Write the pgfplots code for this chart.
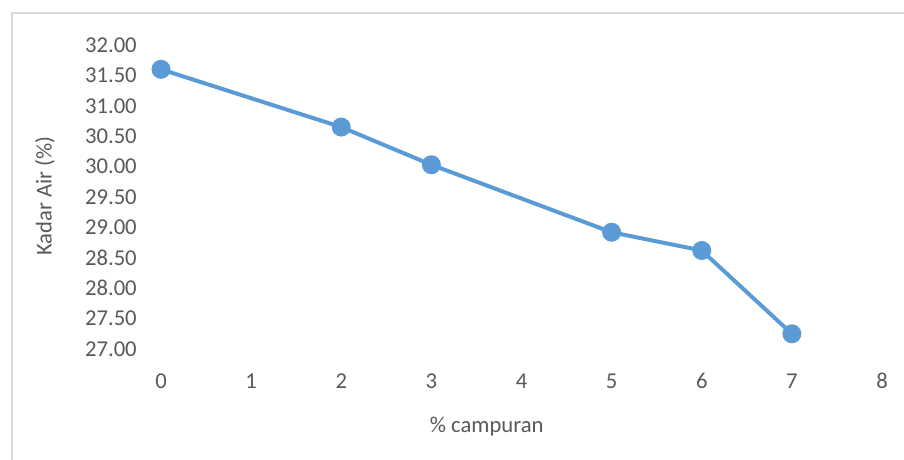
\documentclass[border=0pt]{standalone}
\usepackage{pgfplots}
\pgfplotsset{compat=1.18}
\usepackage{fontspec}
\setmainfont{Carlito}
\definecolor{txt}{HTML}{595959}
\definecolor{ser}{HTML}{5B9BD5}
\definecolor{brd}{HTML}{D9D9D9}
\begin{document}
\begin{tikzpicture}
  % frame of the picture, 904x460 px at 0.75pt per px
  \path[use as bounding box] (0,0) rectangle (678pt,345pt);
  \draw[brd, line width=1.1pt] (9pt,-5pt) -- (9pt,335.25pt) -- (690pt,335.25pt);

  \begin{axis}[
    scale only axis,
    width=540.75pt,
    height=228pt,
    at={(120.75pt,83.25pt)},
    anchor=south west,
    xmin=0, xmax=8,
    ymin=27, ymax=32,
    xtick={0,1,...,8},
    ytick={27,27.5,...,32},
    axis line style={draw=none},
    major tick length=0pt,
    clip=false,
    font=\fontsize{17pt}{20pt}\selectfont,
    every tick label/.append style={text=txt},
    xticklabel style={anchor=base, inner sep=0pt, yshift=-29.5pt},
    yticklabel style={anchor=east, inner sep=0pt, xshift=-18pt,
      /pgf/number format/.cd, fixed, fixed zerofill, precision=2},
    /pgf/number format/assume math mode=true,
  ]
    \addplot[color=ser, line width=3pt, mark=*,
      mark options={solid, fill=ser, draw=none},
      mark size=5.6pt]
      coordinates {
        (0,31.60)
        (2,30.65)
        (3,30.03)
        (5,28.92)
        (6,28.62)
        (7,27.25)
      };
  \end{axis}

  \node[text=txt, font=\fontsize{17pt}{20pt}\selectfont, rotate=90]
    at (33.75pt,198pt) {Kadar Air (\%)};
  \node[text=txt, font=\fontsize{17pt}{20pt}\selectfont]
    at (365pt,24.75pt) {\% campuran};
\end{tikzpicture}
\end{document}
